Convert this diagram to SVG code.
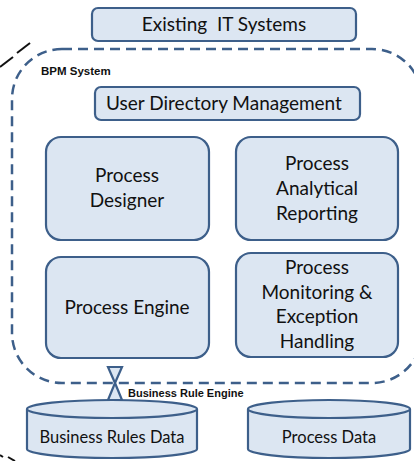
<svg xmlns="http://www.w3.org/2000/svg" width="414" height="461" viewBox="0 0 414 461">
<defs>
<style>
.box{fill:#dce6f2;stroke:#3d5f8a;stroke-width:2.2}
.t{font-family:Lato,"Liberation Sans",sans-serif;font-size:19px;fill:#111;text-anchor:middle}
.c{font-size:16.5px}
.b{font-family:"Liberation Sans",Arial,sans-serif;font-weight:bold;font-size:11px;fill:#111}
.dash{fill:none;stroke:#3d5f8a;stroke-width:2.5;stroke-dasharray:10 6}
.blk{stroke:#111;stroke-width:2;fill:none}
</style>
</defs>
<rect width="414" height="461" fill="#ffffff"/>
<g id="fragments">
<line class="blk" x1="0" y1="67" x2="13" y2="57"/>
<line class="blk" x1="17" y1="53" x2="30" y2="43"/>
<line class="blk" x1="0" y1="455" x2="3" y2="457"/>
<line class="blk" x1="8" y1="457" x2="15" y2="461"/>
</g>
<g id="bpm-system">
<rect class="dash" x="12" y="49" width="410" height="334" rx="50" ry="50"/>
<text class="b" x="41" y="75" style="font-size:11.5px">BPM System</text>
</g>
<g id="existing-it">
<rect class="box" x="92" y="8" width="264" height="33" rx="6"/>
<text class="t" x="224" y="31" xml:space="preserve" style="white-space:pre">Existing  IT Systems</text>
</g>
<g id="user-directory">
<rect class="box" x="95" y="87" width="265" height="33" rx="6"/>
<text class="t" x="224" y="110">User Directory Management</text>
</g>
<g id="process-designer">
<rect class="box" x="46" y="137" width="163" height="103" rx="15"/>
<text class="t" x="127" y="182">Process</text>
<text class="t" x="127" y="207">Designer</text>
</g>
<g id="process-analytical">
<rect class="box" x="236" y="137" width="162" height="103" rx="15"/>
<text class="t" x="317" y="170">Process</text>
<text class="t" x="317" y="195">Analytical</text>
<text class="t" x="317" y="220">Reporting</text>
</g>
<g id="process-engine">
<rect class="box" x="46" y="257" width="163" height="101" rx="15"/>
<text class="t" x="127" y="314">Process Engine</text>
</g>
<g id="process-monitoring">
<rect class="box" x="236" y="253" width="162" height="104" rx="15"/>
<text class="t" x="317" y="274">Process</text>
<text class="t" x="317" y="299">Monitoring &amp;</text>
<text class="t" x="317" y="323">Exception</text>
<text class="t" x="317" y="348">Handling</text>
</g>
<g id="connectors">
<polygon class="box" points="108,367 122,367 115,383"/>
<polygon class="box" points="115,383 108,400 122,400"/>
<text class="b" x="128" y="397">Business Rule Engine</text>
</g>
<g id="business-rules-data">
<path class="box" d="M27,409 L27,449 A85,9 0 0 0 197,449 L197,409"/>
<ellipse class="box" cx="112" cy="409" rx="85" ry="9"/>
<text class="t c" x="112" y="443">Business Rules Data</text>
</g>
<g id="process-data">
<path class="box" d="M248,409 L248,449 A81,9 0 0 0 410,449 L410,409"/>
<ellipse class="box" cx="329" cy="409" rx="81" ry="9"/>
<text class="t c" x="329" y="443">Process Data</text>
</g>
</svg>
